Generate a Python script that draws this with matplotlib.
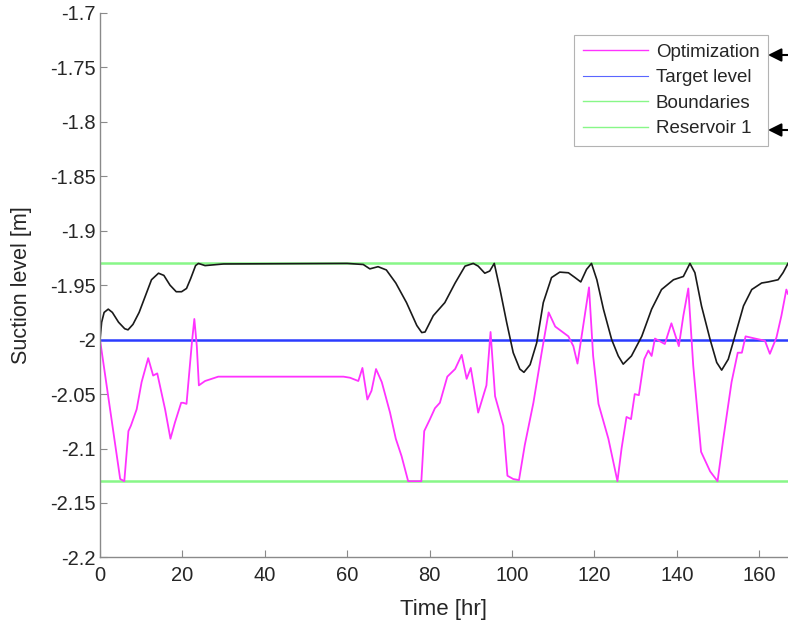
import matplotlib
matplotlib.use('Agg')
import matplotlib.pyplot as plt
from matplotlib.lines import Line2D

plt.rcParams['font.family'] = ['Liberation Sans', 'DejaVu Sans']

# optimization result (magenta)
time_opt = [0, 4.9, 5.9, 6.9, 7.5, 8.9, 10.1, 11.7, 12.9, 13.9, 15.8, 17.1, 18.2, 19.7,
            20.2, 21.0, 22.3, 22.9, 23.5, 24.0, 25.5, 28.7, 59.1, 60.7, 62.7, 63.7, 64.9,
            65.9, 67.0, 68.4, 70.4, 71.8, 73.2, 74.8, 78.0, 78.7, 80.1, 81.3, 82.5, 84.3,
            86.2, 87.8, 89.0, 90.0, 91.8, 93.8, 94.8, 95.9, 97.9, 98.9, 100.3, 101.7,
            103.1, 105.2, 107.2, 108.9, 110.5, 113.7, 114.9, 115.9, 116.9, 118.7, 119.7,
            121.0, 123.4, 125.6, 126.6, 127.8, 128.9, 129.8, 130.8, 132.1, 133.1, 133.9,
            134.7, 137.1, 138.7, 140.5, 141.6, 142.8, 144.0, 145.9, 148.1, 149.9, 151.3,
            153.3, 154.8, 155.8, 156.7, 159.0, 161.4, 162.6, 164.2, 165.4, 166.6, 167.0]
level_opt = [-2.0, -2.128, -2.13, -2.084, -2.079, -2.064, -2.039, -2.017, -2.033, -2.031,
             -2.064, -2.091, -2.076, -2.058, -2.058, -2.059, -2.003, -1.981, -2.006, -2.042,
             -2.038, -2.034, -2.034, -2.035, -2.038, -2.026, -2.055, -2.047, -2.027, -2.039,
             -2.067, -2.091, -2.107, -2.13, -2.13, -2.084, -2.073, -2.063, -2.058, -2.034,
             -2.027, -2.014, -2.036, -2.026, -2.067, -2.042, -1.993, -2.052, -2.079, -2.125,
             -2.128, -2.129, -2.097, -2.058, -2.012, -1.975, -1.988, -1.997, -2.006, -2.022,
             -1.997, -1.952, -2.015, -2.059, -2.091, -2.13, -2.100, -2.071, -2.073, -2.05,
             -2.051, -2.018, -2.010, -2.015, -1.999, -2.004, -1.985, -2.006, -1.978, -1.953,
             -2.024, -2.103, -2.121, -2.13, -2.091, -2.039, -2.012, -2.012, -1.997, -1.999,
             -2.001, -2.013, -1.998, -1.978, -1.954, -1.958]

# reservoir 1 level (black)
time_res = [0, 0.4, 1.0, 2.0, 3.0, 4.5, 6.0, 6.8, 8.0, 9.5, 11.0, 12.5, 14.2, 15.5, 17.0,
            18.5, 19.8, 21.0, 22.0, 23.2, 23.9, 25.5, 30.0, 60.0, 63.9, 65.5, 67.5, 69.5,
            71.8, 74.4, 76.9, 78.1, 78.9, 80.9, 83.7, 86.2, 88.6, 90.6, 91.8, 93.4, 94.6,
            95.7, 97.1, 98.7, 100.3, 101.9, 102.9, 104.4, 106.0, 107.6, 109.6, 111.6, 113.7,
            115.3, 116.7, 118.1, 119.3, 120.6, 122.2, 124.2, 125.8, 127.0, 129.0, 131.5,
            133.9, 136.3, 139.2, 141.6, 143.2, 144.4, 146.0, 148.1, 149.7, 150.9, 152.5,
            154.1, 156.2, 158.2, 160.6, 162.2, 164.6, 165.8, 167.0]
level_res = [-2.0, -1.984, -1.975, -1.972, -1.975, -1.984, -1.990, -1.991, -1.986, -1.975,
             -1.960, -1.945, -1.939, -1.941, -1.950, -1.956, -1.956, -1.953, -1.944, -1.932,
             -1.930, -1.932, -1.9305, -1.930, -1.931, -1.935, -1.933, -1.936, -1.948, -1.966,
             -1.987, -1.9935, -1.993, -1.978, -1.966, -1.948, -1.9325, -1.930, -1.9325,
             -1.939, -1.937, -1.930, -1.954, -1.984, -2.012, -2.027, -2.030, -2.023, -2.003,
             -1.966, -1.943, -1.938, -1.9386, -1.943, -1.947, -1.9355, -1.930, -1.945,
             -1.972, -2.000, -2.015, -2.0225, -2.015, -1.997, -1.972, -1.954, -1.945, -1.942,
             -1.930, -1.9385, -1.969, -2.000, -2.021, -2.028, -2.018, -1.997, -1.969, -1.954,
             -1.948, -1.947, -1.945, -1.9385, -1.930]

target_level = -2.0
upper_bound = -1.93
lower_bound = -2.13
t_end = 167

y_ticks = [-2.2, -2.15, -2.1, -2.05, -2.0, -1.95, -1.9, -1.85, -1.8, -1.75, -1.7]
y_tick_labels = ['-2.2', '-2.15', '-2.1', '-2.05', '-2', '-1.95', '-1.9', '-1.85', '-1.8',
                 '-1.75', '-1.7']
x_ticks = [0, 20, 40, 60, 80, 100, 120, 140, 160]
legend_labels = ['Optimization', 'Target level', 'Boundaries', 'Reservoir 1']

c_opt = '#ff33ff'
c_target = '#2b3cff'
c_bound = '#88f788'
axis_gray = '#8a8a8a'
txt = '#262626'

fig = plt.figure(figsize=(7.88, 6.27), dpi=100)
ax = fig.add_axes([0.1269, 0.1110, 0.8731, 0.8683])

ax.plot([0, t_end], [upper_bound, upper_bound], color=c_bound, lw=1.8)
ax.plot([0, t_end], [lower_bound, lower_bound], color=c_bound, lw=1.8)
ax.plot([0, t_end], [target_level, target_level], color=c_target, lw=1.8)
ax.plot(time_opt, level_opt, color=c_opt, lw=1.3)
ax.plot(time_res, level_res, color='#1a1a1a', lw=1.2)

ax.set_xlim(0, t_end)
ax.set_ylim(-2.2, -1.7)
ax.set_yticks(y_ticks)
ax.set_yticklabels(y_tick_labels)
ax.set_xticks(x_ticks)

for s in ['top', 'right']:
    ax.spines[s].set_visible(False)
for s in ['left', 'bottom']:
    ax.spines[s].set_color(axis_gray)
    ax.spines[s].set_linewidth(1.0)
ax.tick_params(direction='in', length=5, color=axis_gray, labelcolor=txt,
               labelsize=14.5, pad=3)
ax.tick_params(axis='x', pad=6)

ax.set_xlabel('Time [hr]', fontsize=16, color=txt, labelpad=10)
ax.set_ylabel('Suction level [m]', fontsize=15.5, color=txt, labelpad=13)

handles = [Line2D([], [], color=c_opt, lw=1.0),
           Line2D([], [], color='#5a66ff', lw=0.8),
           Line2D([], [], color=c_bound, lw=1.0),
           Line2D([], [], color=c_bound, lw=1.0)]
leg = fig.legend(handles, legend_labels, loc='upper right',
                 bbox_to_anchor=(768 / 788, 1 - 35 / 627), fontsize=13.5,
                 frameon=True, fancybox=False, edgecolor='#a0a0a0',
                 handlelength=3.5, handletextpad=0.4, labelspacing=0.45,
                 borderpad=0.45, borderaxespad=0)
leg.get_frame().set_linewidth(0.8)
for t in leg.get_texts():
    t.set_color(txt)

# arrows pointing at two legend entries
for yy in [55, 130]:
    ax.annotate('', xy=(768 / 788, 1 - yy / 627), xytext=(1.0, 1 - yy / 627),
                xycoords='figure fraction', textcoords='figure fraction',
                arrowprops=dict(arrowstyle='-|>', color='black', lw=1.5,
                                mutation_scale=20, shrinkA=0, shrinkB=0),
                annotation_clip=False)

fig.savefig('out.png', dpi=100)
